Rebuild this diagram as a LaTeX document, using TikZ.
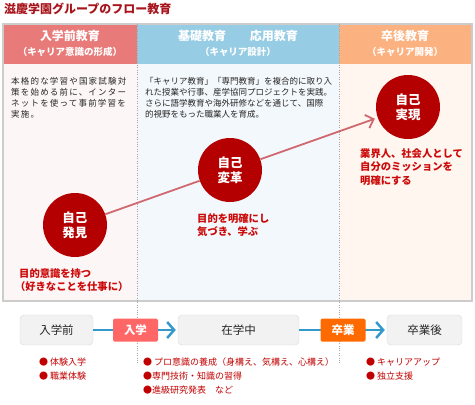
\documentclass[tikz,border=0pt]{standalone}
\usepackage{fontspec}
\setmainfont{Noto Sans CJK JP}
\newfontfamily\widejp[LetterSpace=14]{Noto Sans CJK JP}
\usetikzlibrary{arrows.meta}
\definecolor{titlered}{HTML}{A8141C}
\definecolor{headred}{HTML}{E87A7A}
\definecolor{headblue}{HTML}{96CDE4}
\definecolor{headpeach}{HTML}{FCB280}
\definecolor{bodyred}{HTML}{FDF6F6}
\definecolor{bodyblue}{HTML}{F3F8FC}
\definecolor{bodypeach}{HTML}{FFF6F0}
\definecolor{selfred}{HTML}{B40000}
\definecolor{goalred}{HTML}{CC0A0A}
\definecolor{pathred}{HTML}{D06870}
\definecolor{flowblue}{HTML}{3399CC}
\definecolor{nyured}{HTML}{FF6666}
\definecolor{sotsuorange}{HTML}{FF6A00}
\definecolor{itemred}{HTML}{C00000}

\begin{document}
\begin{tikzpicture}[x=1pt,y=-1pt,
  head/.style={text=white,inner sep=0,font=\bfseries\fontsize{12}{14}\selectfont},
  subhead/.style={text=white,inner sep=0,font=\bfseries\fontsize{9.5}{11}\selectfont},
  body/.style={anchor=north west,align=left,inner sep=0,text=black!85,font=\fontsize{8.5}{11.2}\selectfont},
  self/.style={circle,fill=selfred,minimum size=64pt,inner sep=0,text=white,align=center,font=\bfseries\fontsize{12.5}{15}\selectfont},
  goal/.style={anchor=north west,align=left,inner sep=0,text=goalred,font=\bfseries\fontsize{10.3}{13.8}\selectfont},
  stage/.style={draw=black!15,fill=black!5,rounded corners=4pt,minimum height=30pt,text=black!85,font=\fontsize{11.5}{13}\selectfont},
  tag/.style={text=white,minimum width=45pt,minimum height=23pt,rounded corners=1.5pt,font=\bfseries\fontsize{11.5}{13}\selectfont},
  flow/.style={draw=flowblue,line width=2.5pt,shorten >=2pt,-{Straight Barb[length=7pt,width=16pt]}},
  item/.style={anchor=west,inner sep=0,text=itemred,font=\fontsize{9}{11}\selectfont}]
\useasboundingbox (0,0) rectangle (475,405);

% title
\node[anchor=west,inner sep=0,text=titlered,font=\bfseries\fontsize{12}{14}\selectfont] (title) at (4,9) {滋慶学園グループのフロー教育};

% columns
\fill[bodyred] (3,64) rectangle (137,301);
\fill[bodyblue] (137,64) rectangle (339,301);
\fill[bodypeach] (339,64) rectangle (472,301);
\fill[headred] (3,24) rectangle (137,64);
\fill[headblue] (137,24) rectangle (339,64);
\fill[headpeach] (339,24) rectangle (472,64);
\draw[black!20,line width=1.2pt] (3,24) rectangle (472,301);
\draw[black!35,dotted] (137,24) -- (137,363);
\draw[black!35,dotted] (339,24) -- (339,363);

\node[head] (h1) at (70,36) {入学前教育};
\node[subhead] (s1) at (70,52) {（キャリア意識の形成）};
\node[head] (h2) at (238,36) {基礎教育　　応用教育};
\node[subhead] (s2) at (238,52) {（キャリア設計）};
\node[head] (h3) at (405,36) {卒後教育};
\node[subhead] (s3) at (405,52) {（キャリア開発）};

\node[body,font=\widejp\fontsize{8.5}{11.2}\selectfont] (t1) at (11,77) {本格的な学習や国家試験対\\策を始める前に、インター\\ネットを使って事前学習を\\実施。};
\node[body] (t2) at (145,77) {「キャリア教育」「専門教育」を複合的に取り入\\れた授業や行事、産学協同プロジェクトを実践。\\さらに語学教育や海外研修などを通じて、国際\\的視野をもった職業人を育成。};

% self circles
\node[self] (hak) at (75,225) {自己\\発見};
\node[self] (hen) at (230,170) {自己\\変革};
\node[self] (jit) at (408,107) {自己\\実現};
\path[draw=pathred,line width=1.8pt] (hak) -- (hen);
\path[draw=pathred,line width=1.8pt,shorten >=3pt,-{Straight Barb[length=7pt,width=14pt]}] (hen) -- (jit);

\node[goal] (g1) at (19,268) {目的意識を持つ\\\kern-0.4em（好きなことを仕事に）};
\node[goal] (g2) at (197,213) {目的を明確にし\\気づき、学ぶ};
\node[goal] (g3) at (360,148) {業界人、社会人として\\自分のミッションを\\明確にする};

% stages
\node[stage,minimum width=73pt] (pre) at (56.5,330) {入学前};
\node[stage,minimum width=121pt] (zai) at (238.5,330) {在学中};
\node[stage,minimum width=75pt] (post) at (424.5,330) {卒業後};
\draw[flow] (pre) -- node[tag,fill=nyured] (nyu) {入学} (zai);
\draw[flow] (zai) -- node[tag,fill=sotsuorange] (sot) {卒業} (post);

\node[item] (i1) at (39,362) {● 体験入学};
\node[item] (i2) at (39,376) {● 職業体験};
\node[item] (i3) at (143,362) {● プロ意識の養成（身構え、気構え、心構え）};
\node[item] (i4) at (143,376) {●専門技術・知識の習得};
\node[item] (i5) at (143,390) {●進級研究発表　など};
\node[item] (i6) at (366,362) {● キャリアアップ};
\node[item] (i7) at (366,376) {● 独立支援};
\end{tikzpicture}
\end{document}
